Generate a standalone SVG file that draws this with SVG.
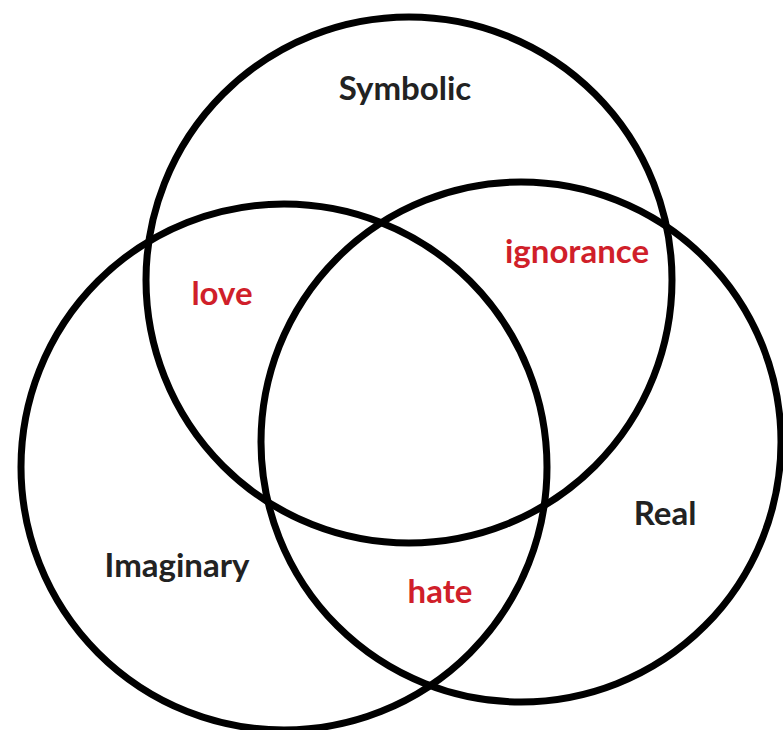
<svg xmlns="http://www.w3.org/2000/svg" width="783" height="730" viewBox="0 0 783 730">
<style>
.c{fill:none;stroke:#000;stroke-width:7}
.t{font-family:Lato,"Open Sans","Liberation Sans",sans-serif;font-weight:bold;font-size:33px;text-anchor:middle}
.k{fill:#222}
.r{fill:#d01f2a}
</style>
<rect width="783" height="730" fill="#fff"/>
<g id="connectors"></g>
<g id="symbolic"><circle class="c" cx="409" cy="280" r="263"/><text class="t k" x="405" y="100">Symbolic</text></g>
<g id="imaginary"><circle class="c" cx="284" cy="467" r="263"/><text class="t k" x="177" y="577">Imaginary</text></g>
<g id="real"><circle class="c" cx="521" cy="442" r="260"/><text class="t k" x="665" y="525">Real</text></g>
<g id="love"><text class="t r" x="222" y="305">love</text></g>
<g id="ignorance"><text class="t r" x="577" y="263">ignorance</text></g>
<g id="hate"><text class="t r" x="440" y="603">hate</text></g>
</svg>
